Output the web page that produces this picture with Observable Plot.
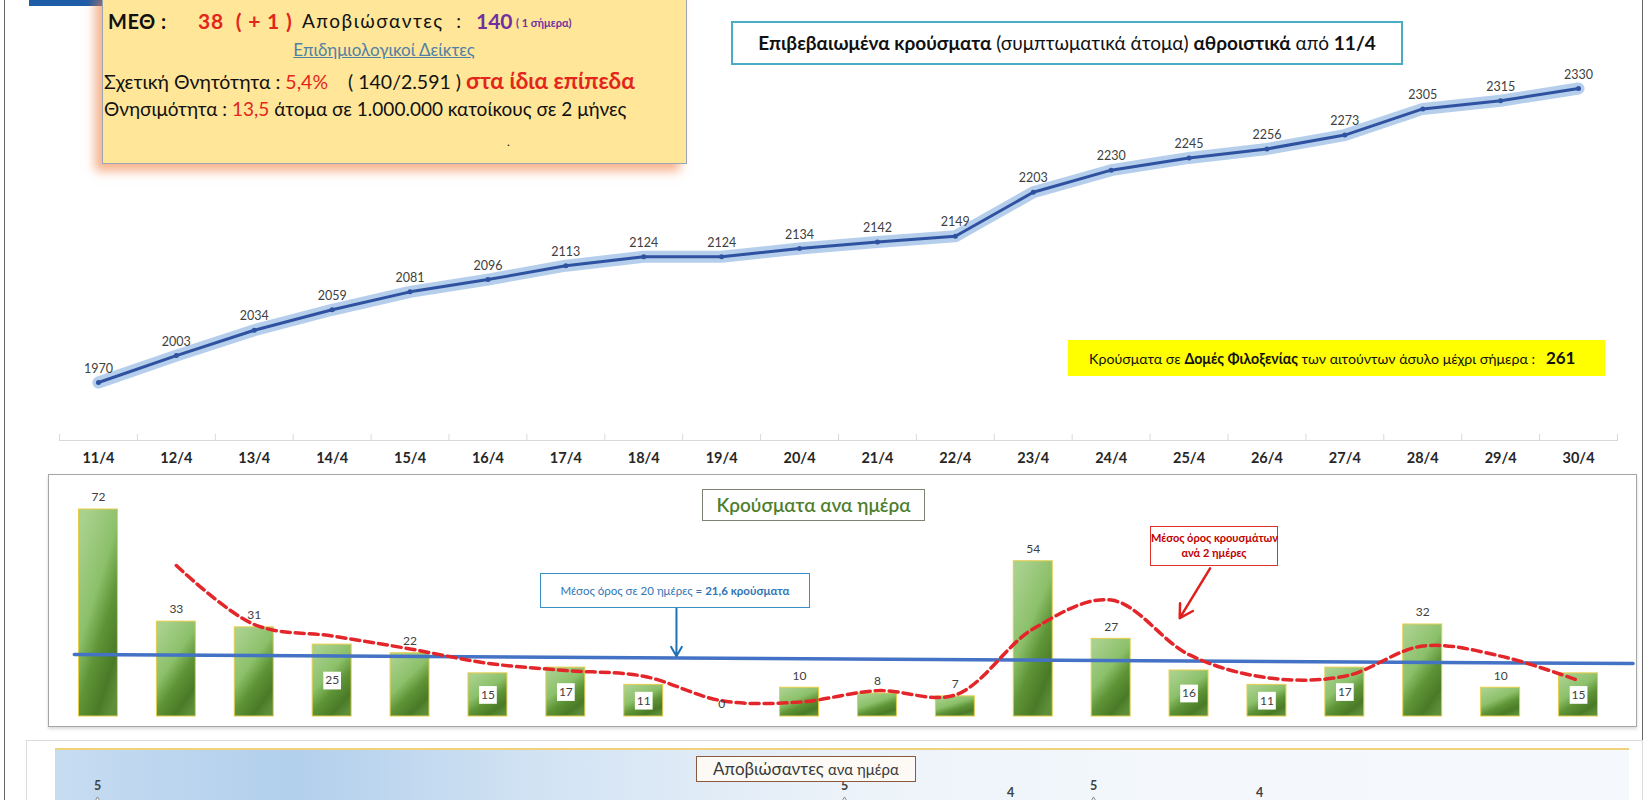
<!DOCTYPE html>
<html><head><meta charset="utf-8">
<script src="https://cdn.jsdelivr.net/npm/d3@7"></script>
<script src="https://cdn.jsdelivr.net/npm/@observablehq/plot@0.6"></script>
<style>
html,body{margin:0;padding:0;background:#fff;}
body{width:1650px;height:800px;position:relative;overflow:hidden;font-family:Lato,"Open Sans",sans-serif;color:#111;}
.a{position:absolute;white-space:nowrap;}
.ln{height:28px;line-height:28px;}
.red{color:#e3261c;}
.pur{color:#7030a0;}
.b{font-weight:bold;}
</style></head><body>

<div class="a" style="left:4px;top:-3px;width:1637px;height:820px;border:1.5px solid #666;"></div>
<div class="a" style="left:29px;top:0;width:92px;height:6px;background:#1f5ca8;"></div>
<div class="a" style="left:102px;top:-10px;width:583px;height:172px;background:#ffe699;border:1px solid #9aa6b6;box-shadow:-7px 7px 10px rgba(240,125,60,0.6);"></div>

<div class="a ln b" style="left:108px;top:7px;font-size:20px;letter-spacing:0.5px;">ΜΕΘ :</div>
<div class="a ln b red" style="left:198px;top:7px;font-size:21px;letter-spacing:0.8px;">38&nbsp; ( + 1 )</div>
<div class="a ln" style="left:302px;top:7px;font-size:19px;letter-spacing:1.5px;">Αποβιώσαντες&nbsp;&nbsp;:</div>
<div class="a ln b pur" style="left:476px;top:7px;font-size:21px;">140</div>
<div class="a ln b pur" style="left:516px;top:9px;font-size:11px;">( 1 σήμερα)</div>
<div class="a ln" style="left:284px;width:200px;text-align:center;top:36px;font-size:17px;color:#4f81a6;text-decoration:underline;">Επιδημιολογικοί Δείκτες</div>
<div class="a ln" style="left:104px;top:67px;font-size:19.5px;">Σχετική Θνητότητα : <span class="red">5,4%</span>&nbsp;&nbsp;&nbsp; ( 140/2.591 ) <span class="red b" style="font-size:22.5px;">στα ίδια επίπεδα</span></div>
<div class="a ln" style="left:104px;top:95px;font-size:19px;">Θνησιμότητα : <span class="red">13,5</span> άτομα σε 1.000.000 κατοίκους σε 2 μήνες</div>
<div class="a" style="left:507px;top:134px;font-size:12px;">.</div>

<div class="a" style="left:731px;top:21px;width:668px;height:40px;border:2px solid #4bacc6;background:#fff;text-align:center;line-height:40px;font-size:19px;">
<span class="b">Επιβεβαιωμένα κρούσματα</span> (συμπτωματικά άτομα) <span class="b">αθροιστικά</span> από <span class="b">11/4</span></div>

<div class="a" style="left:1068px;top:340px;width:537px;height:36px;background:#ffff00;line-height:36px;font-size:14.2px;">
<span style="margin-left:21px;">Κρούσματα σε <span class="b">Δομές Φιλοξενίας</span> των αιτούντων άσυλο μέχρι σήμερα :&nbsp;&nbsp; <span class="b" style="font-size:17px;">261</span></span></div>

<div class="a" style="left:48px;top:474px;width:1587px;height:251px;border:1px solid #a6a6a6;background:#fff;box-shadow:0 2px 3px rgba(0,0,0,0.15);"></div>

<div class="a" style="left:26px;top:740px;width:1615px;height:80px;border:1px solid #dcdcdc;background:#fff;"></div>
<div class="a" style="left:55px;top:748px;width:1574px;height:70px;border-top:2px solid #f0d27c;background:linear-gradient(to right,#c6dcf1 0%,#b2cfec 15%,#d4e4f4 32%,#ebf2f9 50%,#f4f8fc 70%,#f5f8fc 100%);"></div>

<div id="top" class="a" style="left:0;top:0;z-index:1;"></div>
<div id="bars" class="a" style="left:0;top:474px;z-index:1;"></div>
<div id="deaths" class="a" style="left:0;top:740px;height:60px;overflow:hidden;z-index:1;"></div>

<div class="a" style="left:702px;top:489px;width:221px;height:30px;border:1.5px solid #7a8470;background:#fff;text-align:center;line-height:30px;font-size:19px;font-weight:600;color:#4f7f2e;z-index:2;">Κρούσματα ανα ημέρα</div>
<div class="a" style="left:540px;top:573px;width:268px;height:33px;border:1px solid #3a8fc8;background:#fff;text-align:center;line-height:33px;font-size:11.5px;color:#2f75b5;z-index:2;">Μέσος όρος σε 20 ημέρες = <span class="b">21,6 κρούσματα</span></div>
<div class="a" style="left:1150px;top:526px;width:128px;height:40px;border:1.5px solid #e0302a;background:#fff;text-align:center;line-height:15px;padding-top:3px;box-sizing:border-box;font-size:11px;font-weight:bold;color:#c00000;z-index:2;">Μέσος όρος κρουσμάτων<br>ανά 2 ημέρες</div>

<div class="a" style="left:696px;top:756px;width:218px;height:24px;border:1px solid #8b5a3c;background:#fdfaf6;text-align:center;line-height:24px;font-size:17px;color:#3a3a3a;z-index:2;">Αποβιώσαντες <span style="font-size:15px;">ανα ημέρα</span></div>

<script>
// ---- data ----
const days = ["11/4","12/4","13/4","14/4","15/4","16/4","17/4","18/4","19/4","20/4","21/4","22/4","23/4","24/4","25/4","26/4","27/4","28/4","29/4","30/4"];
const cumulative = [1970,2003,2034,2059,2081,2096,2113,2124,2124,2134,2142,2149,2203,2230,2245,2256,2273,2305,2315,2330];
const daily = [72,33,31,25,22,15,17,11,0,10,8,7,54,27,16,11,17,32,10,15];
const twoDayAvg = [null,52.5,32,28,23.5,18.5,16,14,5.5,5,9,7.5,30.5,40.5,21.5,13.5,14,24.5,21,12.5];
const avgTrendPos = [-0.31, 19.7];
const avgTrendVal = [21.6, 18.4];
const insideLabelDays = ["14/4","16/4","17/4","18/4","25/4","26/4","27/4","30/4"];
const deathDays = ["11/4","20/4","22/4","23/4","25/4"];
const deathValues = [5,5,4,5,4];
// annotation arrows (data space)
const blueArrow = [{x1:7.42, y1:37.6, x2:7.42, y2:21.0}];
const redArrow = [{x1:14.27, y1:51.5, x2:13.88, y2:34.2}];

const FONT = "Lato, 'Open Sans', sans-serif";
const idx = days.map((d,i)=>i);
const cum = cumulative.map((v,i)=>({i, v}));
const dd = daily.map((v,i)=>({i, v, day: days[i]}));
const avg2 = twoDayAvg.map((v,i)=>({i, v})).filter(d=>d.v!=null);
const trend = avgTrendPos.map((p,k)=>({i:p, v:avgTrendVal[k]}));
const boundaries = d3.range(-0.5, 20, 1);

const xOpt = {domain:[-0.5,19.5], range:[59,1617], axis:null, label:null};

const topPlot = Plot.plot({
  width:1650, height:470, marginLeft:59, marginRight:33, marginTop:0, marginBottom:30,
  x: xOpt,
  y: {domain:[1970,2330], range:[382,88], axis:null},
  style:{fontFamily:FONT, background:"transparent", overflow:"visible"},
  marks:[
    Plot.frame({anchor:"bottom", stroke:"#d9d9d9"}),
    Plot.axisX(boundaries, {anchor:"bottom", tickSize:-6, tickFormat:()=>"", stroke:"#d9d9d9", label:null}),
    Plot.axisX(idx, {anchor:"bottom", tickSize:0, tickPadding:12, tickFormat:i=>days[i], fontSize:14.5, fontWeight:"bold", fill:"#262626", label:null}),
    Plot.line(cum, {x:"i", y:"v", stroke:"#8db3e2", strokeWidth:12, strokeOpacity:0.65}),
    Plot.line(cum, {x:"i", y:"v", stroke:"#2f52a0", strokeWidth:3}),
    Plot.dot(cum, {x:"i", y:"v", r:2.5, fill:"#2f52a0"}),
    Plot.text(cum, {x:"i", y:"v", text:d=>String(d.v), dy:-14, fontSize:12.5, fill:"#404040"})
  ]
});
document.getElementById("top").append(topPlot);

const defs = () => {
  const g = d3.create("svg:defs");
  const lg = g.append("linearGradient").attr("id","barGrad").attr("x1","0.2").attr("y1","0").attr("x2","0.8").attr("y2","1");
  [["0%","#a9d18e"],["40%","#8cc06a"],["62%","#5e9436"],["85%","#4a7a27"],["100%","#5d8f3a"]].forEach(([o,c])=>lg.append("stop").attr("offset",o).attr("stop-color",c));
  return g.node();
};

const inside = dd.filter(d=>insideLabelDays.includes(d.day));
const outside = dd.filter(d=>!insideLabelDays.includes(d.day));

const barPlot = Plot.plot({
  width:1650, height:252, marginLeft:59, marginRight:33, marginTop:0, marginBottom:0,
  x: xOpt,
  y: {domain:[0,72], range:[242,35], axis:null},
  style:{fontFamily:FONT, background:"transparent", overflow:"visible"},
  marks:[
    defs,
    Plot.rectY(dd, {x1:d=>d.i-0.25, x2:d=>d.i+0.25, y:"v", fill:"url(#barGrad)", stroke:"#e6cd4c", strokeWidth:1}),
    Plot.line(trend, {x:"i", y:"v", stroke:"#4472c4", strokeWidth:3.5}),
    Plot.line(avg2, {x:"i", y:"v", stroke:"#e3262a", strokeWidth:3.5, strokeDasharray:"9,5", curve:"catmull-rom"}),
    Plot.text(outside, {x:"i", y:"v", text:d=>String(d.v), dy:-12, fontSize:12, fill:"#404040"}),
    Plot.dot(inside, {x:"i", y:d=>d.v/2, symbol:"square", r:10, fill:"white"}),
    Plot.text(inside, {x:"i", y:d=>d.v/2, text:d=>String(d.v), fontSize:12, fill:"#404040"}),
    Plot.arrow(blueArrow, {x1:"x1", y1:"y1", x2:"x2", y2:"y2", stroke:"#1f70b5", strokeWidth:2, headLength:8}),
    Plot.arrow(redArrow, {x1:"x1", y1:"y1", x2:"x2", y2:"y2", stroke:"#e0201c", strokeWidth:2.5, headLength:9})
  ]
});
document.getElementById("bars").append(barPlot);

const deaths = deathDays.map((d,k)=>({i: days.indexOf(d), v: deathValues[k]}));
const deathPlot = Plot.plot({
  width:1650, height:110, marginLeft:97, marginRight:0, marginTop:0, marginBottom:0,
  x: {domain:[0,19], range:[97,1674], axis:null},
  y: {domain:[0,5], range:[98,63], axis:null},
  style:{fontFamily:FONT, background:"transparent", overflow:"visible"},
  marks:[
    Plot.dot(deaths, {x:"i", y:"v", symbol:"diamond", r:4, stroke:"#8c8c8c", fill:"#f4f4f4", strokeWidth:1}),
    Plot.text(deaths, {x:"i", y:"v", text:d=>String(d.v), dy:-18, fontSize:12.5, fontWeight:"bold", fill:"#404040"})
  ]
});
document.getElementById("deaths").append(deathPlot);
</script>
</body></html>
